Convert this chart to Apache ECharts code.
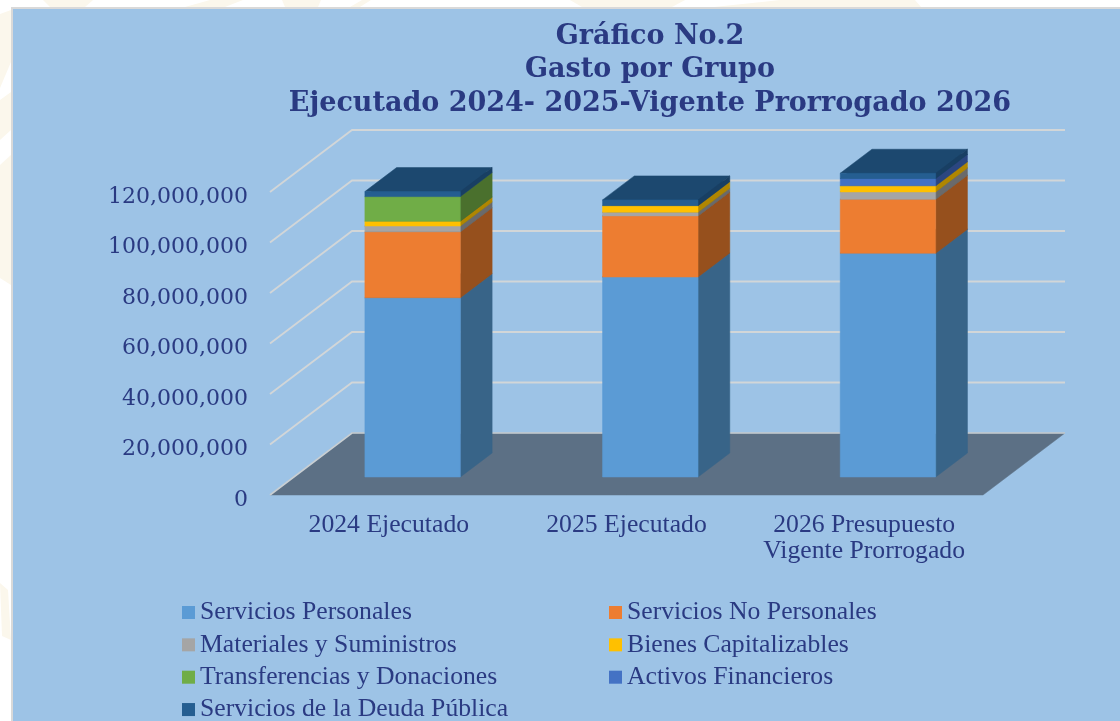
<!DOCTYPE html>
<html><head><meta charset="utf-8">
<style>html,body{margin:0;padding:0;background:#fff}
#bg{position:absolute;left:0;top:0;width:1120px;height:721px}
#c{position:absolute;left:0;top:0;width:1120px;height:721px}</style>
<script src="https://cdn.jsdelivr.net/npm/echarts@6/dist/echarts.min.js"></script>
</head><body>
<svg id="bg" viewBox="0 0 1120 721"><g fill="#fbf7ec">
<polygon points="43,0 93,0 85,7 50,7"/><polygon points="185,7 210,0 243,0 225,7"/><polygon points="282,0 321,0 318,7 285,7"/>
<polygon points="350,7 362,0 371,0 360,7"/><polygon points="570,0 685,0 672,7 582,7"/><polygon points="714,7 780,0 915,0 921,7"/>
<polygon points="0,14 11,10 11,62 0,88"/><polygon points="0,100 11,92 11,130 0,140"/><polygon points="0,165 11,155 11,285 0,278"/><polygon points="0,583 8,590 11,640 2,636"/>
</g></svg>
<div id="c"></div>
<script>
const categories = ['2024 Ejecutado', '2025 Ejecutado', '2026 Presupuesto\nVigente Prorrogado'];
const yTicks = [0, 20000000, 40000000, 60000000, 80000000, 100000000, 120000000];
const serviciosPersonales = [71000000, 79200000, 88600000];
const serviciosNoPersonales = [26100000, 24200000, 21400000];
const materialesSuministros = [2300000, 1450000, 2900000];
const bienesCapitalizables = [1900000, 2600000, 2400000];
const transferenciasDonaciones = [9750000, 0, 0];
const activosFinancieros = [0, 0, 2900000];
const deudaPublica = [2000000, 2300000, 2100000];

const groups = [
  ['Servicios Personales', serviciosPersonales, '#5b9bd5', '#386488'],
  ['Servicios No Personales', serviciosNoPersonales, '#ed7d31', '#96501d'],
  ['Materiales y Suministros', materialesSuministros, '#a5a5a5', '#6a6a6a'],
  ['Bienes Capitalizables', bienesCapitalizables, '#ffc000', '#b08600'],
  ['Transferencias y Donaciones', transferenciasDonaciones, '#70ad47', '#4a702d'],
  ['Activos Financieros', activosFinancieros, '#4472c4', '#2b4680'],
  ['Servicios de la Deuda Pública', deudaPublica, '#255e91', '#183f63']
];
const TOP_COLOR = '#1c486f';
const TEXT = '#2a3a82';
const DX = 82, DY = -62;        // shift from front plane to back wall
const Z_FRONT = 18 / 62, Z_BACK = 42 / 62;
const BAR_W = 95.5;
const SERIF = '"Liberation Serif", serif';

const shift = (p, z) => [p[0] + DX * z, p[1] + DY * z];
const poly = (points, fill, extra) => Object.assign({
  type: 'polygon', shape: { points }, style: { fill, stroke: fill, lineWidth: 0.5 }
}, extra || {});

function floorItem(params, api) {
  const l = api.coord([0, 0]);
  const w = api.size([1, 0])[0];
  const a = [l[0] - w / 2, l[1]], b = [l[0] + w * 2.5, l[1]];
  return {
    type: 'group', children: [
      poly([a, b, shift(b, 1), shift(a, 1)], '#5c7085'),
      { type: 'polyline', shape: { points: [a, shift(a, 1), shift(b, 1)] }, style: { fill: 'none', stroke: '#c9cfd3', lineWidth: 1.6 } }
    ]
  };
}
function gridItem(params, api) {
  const base = api.coord([0, api.value(0)]);
  const w = api.size([1, 0])[0];
  const a = [base[0] - w / 2, base[1]], b = [base[0] + w * 2.5, base[1]];
  return {
    type: 'polyline', shape: { points: [a, shift(a, 1), shift(b, 1)] },
    style: { fill: 'none', stroke: '#d2d6d8', lineWidth: 1.8 }
  };
}
function cuboid(front, side) {
  return function (params, api) {
    const cat = api.value(0), lo = api.value(1), hi = api.value(2);
    if (hi <= lo) return { type: 'group', children: [] };
    const pLo = api.coord([cat, lo]), pHi = api.coord([cat, hi]);
    const x0 = pLo[0] - BAR_W / 2, x1 = pLo[0] + BAR_W / 2;
    const fbl = shift([x0, pLo[1]], Z_FRONT), fbr = shift([x1, pLo[1]], Z_FRONT);
    const ftl = shift([x0, pHi[1]], Z_FRONT), ftr = shift([x1, pHi[1]], Z_FRONT);
    const bbr = shift([x1, pLo[1]], Z_BACK), btr = shift([x1, pHi[1]], Z_BACK), btl = shift([x0, pHi[1]], Z_BACK);
    return {
      type: 'group', children: [
        poly([ftl, ftr, btr, btl], TOP_COLOR),
        poly([fbr, bbr, btr, ftr], side),
        poly([fbl, fbr, ftr, ftl], front)
      ]
    };
  };
}

const stackBase = categories.map(() => 0);
const barSeries = groups.map((g, si) => {
  const rows = g[1].map((v, i) => {
    const row = [i, stackBase[i], stackBase[i] + v];
    stackBase[i] += v;
    return row;
  });
  return {
    type: 'custom', name: g[0], z: 10 + si, renderItem: cuboid(g[2], g[3]),
    itemStyle: { color: g[2] }, data: rows, encode: { x: 0, y: [1, 2] },
    silent: true, animation: false
  };
});

const legendBase = {
  orient: 'vertical', icon: 'rect', itemWidth: 13, itemHeight: 13, itemGap: 3.35, height: 160,
  textStyle: { fontFamily: SERIF, fontSize: 25.7, color: TEXT, height: 29, lineHeight: 29 },
  selectedMode: false
};
const option = {
  animation: false,
  backgroundColor: 'transparent',
  title: {
    text: 'Gráfico No.2\nGasto por Grupo\nEjecutado 2024- 2025-Vigente Prorrogado 2026',
    left: 645, top: 15, textAlign: 'center',
    textStyle: { fontFamily: '"DejaVu Serif", serif', fontWeight: 'bold', fontSize: 27, lineHeight: 33.5, color: TEXT }
  },
  graphic: [
    { type: 'rect', z: -10, shape: { x: 12, y: 8, width: 1120, height: 730 }, style: { fill: '#9dc3e6', stroke: '#d9d9d9', lineWidth: 2 } }
  ],
  legend: [
    Object.assign({}, legendBase, { left: 177, top: 593, data: [groups[0][0], groups[2][0], groups[4][0], groups[6][0]] }),
    Object.assign({}, legendBase, { left: 604, top: 593, data: [groups[1][0], groups[3][0], groups[5][0]] })
  ],
  grid: { left: 270, top: 192, width: 713, height: 303 },
  xAxis: {
    type: 'category', data: categories,
    axisLine: { show: false }, axisTick: { show: false }, splitLine: { show: false },
    axisLabel: { fontFamily: SERIF, fontSize: 25.7, lineHeight: 25.5, color: TEXT, margin: 18, interval: 0 }
  },
  yAxis: {
    type: 'value', min: 0, max: 120000000, interval: 20000000,
    axisLine: { show: false }, axisTick: { show: false }, splitLine: { show: false },
    axisLabel: {
      fontFamily: '"DejaVu Serif", serif', fontSize: 22, color: TEXT, margin: 22,
      verticalAlign: 'top', lineHeight: 10,
      formatter: v => v.toLocaleString('en-US')
    }
  },
  series: [
    { type: 'custom', name: 'floor', z: 1, renderItem: floorItem, data: [[0]], encode: { x: 0 }, silent: true },
    { type: 'custom', name: 'grid', z: 2, renderItem: gridItem, data: yTicks.slice(1).map(v => [v]), encode: { y: 0 }, silent: true }
  ].concat(barSeries)
};
echarts.init(document.getElementById('c'), null, { renderer: 'canvas' }).setOption(option);
</script></body></html>
